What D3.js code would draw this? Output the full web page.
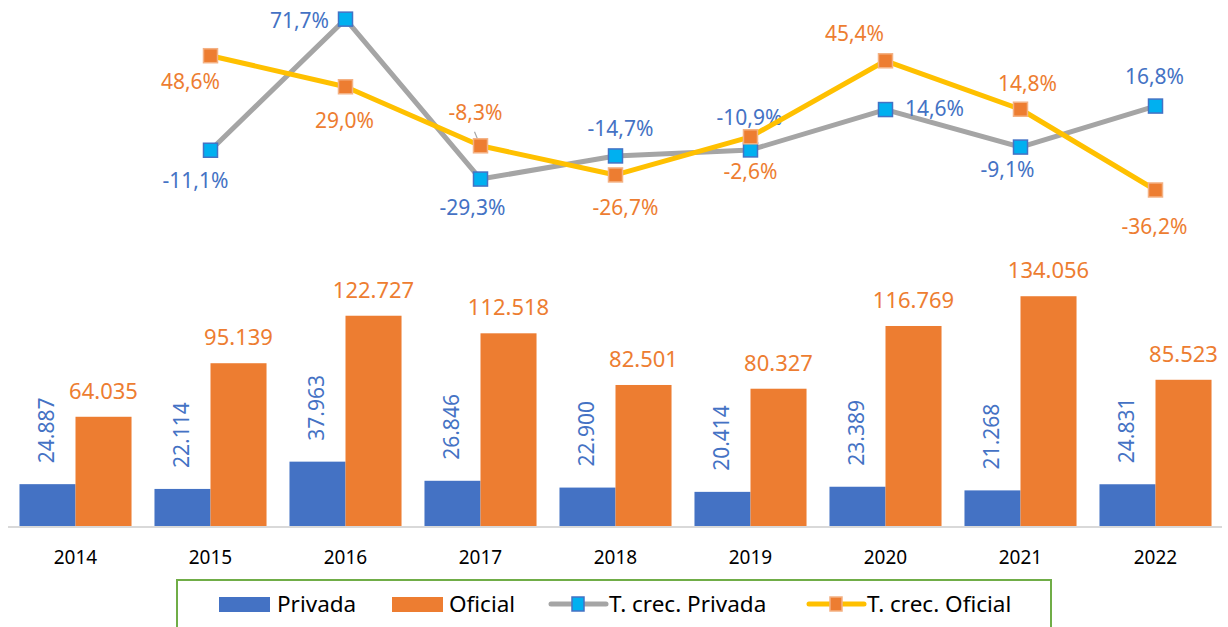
<!DOCTYPE html>
<html>
<head>
<meta charset="utf-8">
<script src="https://cdn.jsdelivr.net/npm/d3@7"></script>
<style>
  body { margin: 0; background: #fff; }
  svg { display: block; font-family: "Noto Sans", sans-serif; }
</style>
</head>
<body>
<div id="chart"></div>
<script>
// data
var years = ['2014', '2015', '2016', '2017', '2018', '2019', '2020', '2021', '2022'];
var privada = [24887, 22114, 37963, 26846, 22900, 20414, 23389, 21268, 24831];
var oficial = [64035, 95139, 122727, 112518, 82501, 80327, 116769, 134056, 85523];
var crecYears = ['2015', '2016', '2017', '2018', '2019', '2020', '2021', '2022'];
var crecPrivada = [-11.1, 71.7, -29.3, -14.7, -10.9, 14.6, -9.1, 16.8];
var crecOficial = [48.6, 29.0, -8.3, -26.7, -2.6, 45.4, 14.8, -36.2];

// label placement (offset of text centre from marker)
var privOff = [[-15, 30], [-46, 1], [-8, 28], [5, -28], [-1, -32], [49, -1], [-13, 22], [-1, -30]];
var oficOff = [[-20, 26], [-1, 34], [-5, -33], [10, 32], [0, 35], [-31, -27], [7, -26], [-1, 36]];

var W = 1228, H = 627;
var svg = d3.select('#chart').append('svg').attr('width', W).attr('height', H);

var x = d3.scaleBand().domain(years).range([8, 1223]).paddingInner(0.17).paddingOuter(0.085);
var x1 = d3.scaleBand().domain(['p', 'o']).range([0, x.bandwidth()]);
var yBar = d3.scaleLinear().domain([0, 140000]).range([527, 286]);
var yPct = d3.scaleLinear().domain([-40, 80]).range([196, 6]);
var cx = function(d) { return x(d) + x.bandwidth() / 2; };

var fmt = function(v) { return d3.format(',')(v).replace(/,/g, '.'); };
var pct = function(v) { return v.toFixed(1).replace('.', ',') + '%'; };

// bars
var g = svg.append('g');
years.forEach(function(yr, i) {
    g.append('rect')
        .attr('x', x(yr) + x1('p')).attr('width', x1.bandwidth())
        .attr('y', yBar(privada[i])).attr('height', yBar(0) - yBar(privada[i]))
        .attr('fill', '#4472C4');
    g.append('rect')
        .attr('x', x(yr) + x1('o')).attr('width', x1.bandwidth())
        .attr('y', yBar(oficial[i])).attr('height', yBar(0) - yBar(oficial[i]))
        .attr('fill', '#ED7D31');

    var px = x(yr) + x1('p') + x1.bandwidth() / 2 + 7;
    var py = yBar(privada[i]) - 21;
    g.append('text')
        .attr('transform', 'translate(' + px + ',' + py + ') rotate(-90)')
        .attr('font-size', '21px').attr('fill', '#4472C4')
        .text(fmt(privada[i]));
    g.append('text')
        .attr('x', x(yr) + x1('o') + x1.bandwidth() / 2)
        .attr('y', yBar(oficial[i]) - 18)
        .attr('text-anchor', 'middle')
        .attr('font-size', '22px').attr('fill', '#ED7D31')
        .text(fmt(oficial[i]));
});

// axis
svg.append('line')
    .attr('x1', 8).attr('x2', 1222).attr('y1', yBar(0)).attr('y2', yBar(0))
    .attr('stroke', '#D9D9D9').attr('stroke-width', 2);
svg.selectAll('.cat').data(years).enter().append('text')
    .attr('x', cx).attr('y', 564)
    .attr('text-anchor', 'middle')
    .attr('font-size', '19px').attr('fill', '#000')
    .text(function(d) { return d; });

// lines
var line = d3.line()
    .x(function(d, i) { return cx(crecYears[i]); })
    .y(function(d) { return yPct(d); });

function drawSeries(vals, offs, lineCol, fill, stroke, labCol) {
    svg.append('path')
        .attr('d', line(vals))
        .style('fill', 'none')
        .style('stroke', lineCol)
        .style('stroke-width', 5)
        .style('stroke-linejoin', 'round');
    vals.forEach(function(v, i) {
        var mx = cx(crecYears[i]), my = yPct(v);
        svg.append('rect')
            .attr('x', mx - 7).attr('y', my - 7).attr('width', 14).attr('height', 14)
            .attr('fill', fill).attr('stroke', stroke).attr('stroke-width', 1.5);
    });
    vals.forEach(function(v, i) {
        var mx = cx(crecYears[i]), my = yPct(v);
        svg.append('text')
            .attr('x', mx + offs[i][0]).attr('y', my + offs[i][1])
            .attr('dy', '0.36em')
            .attr('text-anchor', 'middle')
            .attr('font-size', '21px').attr('fill', labCol)
            .text(pct(v));
    });
}

drawSeries(crecPrivada, privOff, '#A5A5A5', '#00B0F0', '#4472C4', '#4472C4');

// leader line for -8,3%
var lx = cx(crecYears[2]), ly = yPct(crecOficial[2]);
svg.append('line')
    .attr('x1', lx - 6).attr('y1', ly - 14).attr('x2', lx - 1).attr('y2', ly - 2)
    .attr('stroke', '#A6A6A6').attr('stroke-width', 1.2);

drawSeries(crecOficial, oficOff, '#FFC000', '#ED7D31', '#F4B183', '#ED7D31');

// legend
var leg = svg.append('g');
leg.append('rect')
    .attr('x', 177).attr('y', 580).attr('width', 874).attr('height', 70)
    .attr('fill', '#fff').attr('stroke', '#70AD47').attr('stroke-width', 2);
var ly0 = 604;
leg.append('rect').attr('x', 219).attr('y', ly0 - 7).attr('width', 51).attr('height', 15).attr('fill', '#4472C4');
leg.append('text').attr('x', 277).attr('y', ly0).attr('dy', '0.36em').attr('font-size', '22.5px').text('Privada');
leg.append('rect').attr('x', 392).attr('y', ly0 - 7).attr('width', 51).attr('height', 15).attr('fill', '#ED7D31');
leg.append('text').attr('x', 449).attr('y', ly0).attr('dy', '0.36em').attr('font-size', '22.5px').text('Oficial');

leg.append('line').attr('x1', 551).attr('x2', 606).attr('y1', ly0).attr('y2', ly0)
    .attr('stroke', '#A5A5A5').attr('stroke-width', 5).attr('stroke-linecap', 'round');
leg.append('rect').attr('x', 572).attr('y', ly0 - 7).attr('width', 12).attr('height', 14)
    .attr('fill', '#00B0F0').attr('stroke', '#4472C4').attr('stroke-width', 1.5);
leg.append('text').attr('x', 609).attr('y', ly0).attr('dy', '0.36em').attr('font-size', '22.5px').text('T. crec. Privada');

leg.append('line').attr('x1', 809).attr('x2', 864).attr('y1', ly0).attr('y2', ly0)
    .attr('stroke', '#FFC000').attr('stroke-width', 5).attr('stroke-linecap', 'round');
leg.append('rect').attr('x', 830).attr('y', ly0 - 7).attr('width', 12).attr('height', 14)
    .attr('fill', '#ED7D31').attr('stroke', '#F4B183').attr('stroke-width', 1.5);
leg.append('text').attr('x', 867).attr('y', ly0).attr('dy', '0.36em').attr('font-size', '22.5px').text('T. crec. Oficial');
</script>
</body>
</html>
